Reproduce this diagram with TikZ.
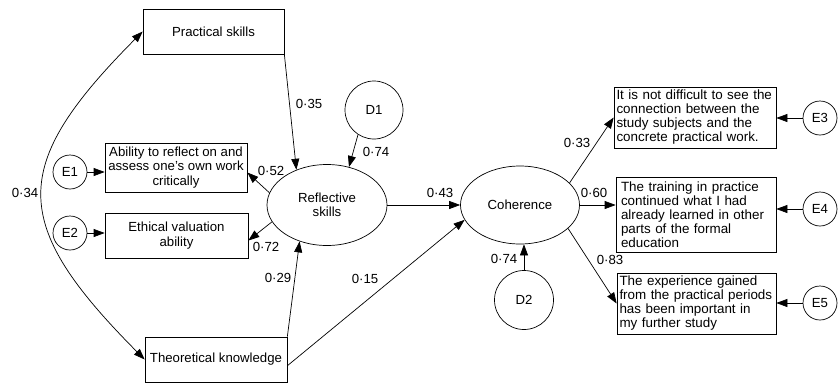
\documentclass[tikz,border=0pt]{standalone}
\usepackage{fontspec}
\setmainfont{Liberation Sans}
\usetikzlibrary{arrows.meta,shapes.geometric}

\begin{document}
\begin{tikzpicture}[x=1pt,y=-1pt,
  every node/.style={font=\fontsize{13.2}{14.3}\selectfont},
  box/.style={draw, line width=0.7pt, rectangle, inner sep=2pt},
  rbox/.style={box, font=\fontsize{13.4}{14}\selectfont, align=left},
  latent/.style={draw, ellipse, inner sep=0pt, line width=0.7pt},
  err/.style={draw, circle, inner sep=0pt, line width=0.7pt},
  link/.style={draw, line width=0.7pt, -{Triangle[length=11pt,width=8pt]}},
  coef/.style={inner sep=0pt}
]
\useasboundingbox (0,0) rectangle (839,384);

% observed indicators, left side
\node[box, minimum width=141pt, minimum height=45pt] (ps) at (213.5,31.5) {Practical skills};
\node[box, minimum width=142pt, minimum height=49pt, align=center] (ab) at (176,167.5)
  {Ability to reflect on and\\assess one’s own work\\critically};
\node[box, minimum width=143pt, minimum height=45pt, align=center] (et) at (176.5,235.5)
  {Ethical valuation\\ability};
\node[box, minimum width=142pt, minimum height=45pt] (tk) at (216,359.5) {Theoretical knowledge};

% latent variables
\node[latent, minimum width=120pt, minimum height=81pt, align=center] (rf) at (327,205) {Reflective\\skills};
\node[latent, minimum width=119pt, minimum height=78pt] (co) at (520,205) {Coherence};

% disturbances and errors
\node[err, minimum size=58pt] (d1) at (374,110) {D1};
\node[err, minimum size=59pt] (d2) at (524,300) {D2};
\node[err, minimum size=34pt] (e1) at (70,172) {E1};
\node[err, minimum size=34pt] (e2) at (70,233) {E2};
\node[err, minimum size=34pt] (e3) at (820,118) {E3};
\node[err, minimum size=34pt] (e4) at (820,209) {E4};
\node[err, minimum size=34pt] (e5) at (820,303) {E5};

% observed indicators, right side
\node[rbox, inner xsep=2.5pt, text width=157pt, minimum height=61pt] (b1) at (695,117.5)
  {It is not difficult to see the\\connection between the\\study subjects and the\\concrete practical work.};
\node[rbox, inner xsep=5pt, text width=150pt, minimum height=75pt] (b2) at (696,214.5)
  {The training in practice\\continued what I had\\already learned in other\\parts of the formal\\education};
\node[rbox, inner xsep=2.5pt, text width=154pt, minimum height=61pt] (b3) at (696.5,303.5)
  {The experience gained\\from the practical periods\\has been important in\\my further study};

% paths
\draw[link] (ps.south east) -- (rf.131);
\draw[link] (d1.237) -- (rf.60);
\draw[link] (rf.168) -- (ab.-4);
\draw[link] (rf.197) -- (et.-4);
\draw[link] (tk.north east) -- (rf.233);
\draw[link] (tk.-5) -- (co.195);
\draw[link] (rf.east) -- (co.west);
\draw[link] (co.24) -- (b1.west);
\draw[link] (co.east) -- (co.east -| b2.west);
\draw[link] (co.-26) -- (b3.west);
\draw[link] (d2.north) -- (d2.north |- co.south);
\draw[link] (e1.east) -- (e1.east -| ab.west);
\draw[link] (e2.east) -- (e2.east -| et.west);
\draw[link] (e3.west) -- (e3.west -| b1.east);
\draw[link] (e4.west) -- (e4.west -| b2.east);
\draw[link] (e5.west) -- (e5.west -| b3.east);

% covariance
\draw[line width=0.7pt, {Triangle[length=11pt,width=8pt]}-{Triangle[length=11pt,width=8pt]}]
  (ps.west) .. controls (9,166) and (9,223) .. (tk.west);

% coefficients
\node[coef] (c34) at (25,193) {0·34};
\node[coef] (c35) at (309,104) {0·35};
\node[coef] (c74a) at (376,152) {0·74};
\node[coef] (c52) at (271,171) {0·52};
\node[coef] (c72) at (266,247) {0·72};
\node[coef] (c29) at (278,278) {0·29};
\node[coef] (c15) at (365,279) {0·15};
\node[coef] (c43) at (440,193) {0·43};
\node[coef] (c33) at (577,143) {0·33};
\node[coef] (c60) at (594,193) {0·60};
\node[coef] (c83) at (610,260) {0·83};
\node[coef] (c74b) at (504,259) {0·74};
\end{tikzpicture}
\end{document}
